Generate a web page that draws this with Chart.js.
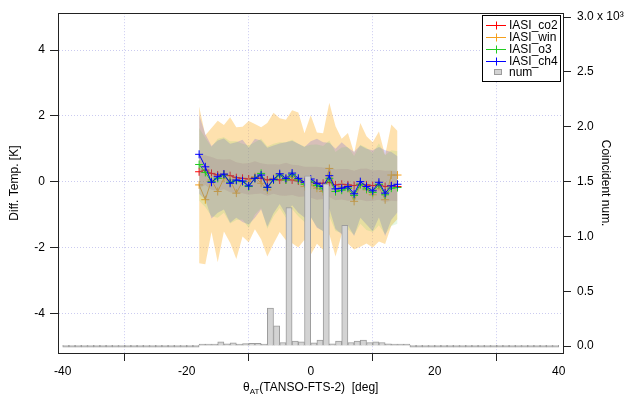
<!DOCTYPE html>
<html>
<head>
<meta charset="utf-8">
<script src="https://cdn.jsdelivr.net/npm/chart.js@4.4.0/dist/chart.umd.min.js"></script>
<style>
  html, body { margin: 0; padding: 0; background: #fff; }
</style>
</head>
<body>
<canvas id="diffChart" width="625" height="395"></canvas>
<script>
// scan angle of the match-ups (deg)
const angles = [-18, -17, -16, -15, -14, -13, -12, -11, -10, -9, -8, -7, -6, -5, -4, -3, -2,
  -1, 0, 1, 2, 3, 4, 5, 6, 7, 8, 9, 10, 11, 12, 13, 14];

// mean temperature differences [K]
const co2Mean = [0.30, 0.35, 0.25, 0.20, 0.22, 0.18, 0.12, 0.10, 0.08, 0.12, 0.10, 0.05, 0.08, 0.05, 0.07, 0.05, 0.02,
  0.00, -0.02, -0.05, -0.05, -0.02, -0.10, -0.08, -0.10, -0.12, -0.08, -0.10, -0.12, -0.10, -0.15, -0.12, -0.15];
const winMean = [-0.10, -0.55, 0.05, -0.30, 0.10, 0.05, -0.35, 0.00, 0.00, 0.15, -0.05, -0.25, 0.10, 0.20, 0.05, 0.15, 0.05,
  -0.15, -0.10, -0.20, -0.30, 0.40, -0.30, -0.15, -0.20, -0.60, -0.10, -0.25, -0.40, -0.15, -0.55, 0.20, 0.20];
const o3Mean = [0.52, 0.28, 0.00, 0.10, 0.20, -0.02, 0.03, 0.00, -0.15, 0.10, 0.25, -0.18, 0.05, 0.20, 0.05, 0.22, 0.05,
  -0.08, 0.02, -0.12, -0.22, 0.10, -0.30, -0.26, -0.20, -0.42, -0.08, -0.22, -0.33, -0.08, -0.40, -0.20, -0.18];
const ch4Mean = [0.83, 0.45, -0.02, 0.15, 0.23, -0.05, 0.05, 0.02, -0.13, 0.10, 0.20, -0.17, 0.07, 0.24, 0.10, 0.26, 0.10,
  -0.02, 0.08, -0.05, -0.15, 0.18, -0.22, -0.20, -0.15, -0.37, 0.00, -0.15, -0.28, -0.02, -0.35, -0.13, -0.08];

// standard deviations [K] (shaded bands)
const co2Std = [0.50, 0.45, 0.50, 0.48, 0.45, 0.50, 0.47, 0.45, 0.48, 0.50, 0.46, 0.48, 0.45, 0.47, 0.50, 0.46, 0.48,
  0.45, 0.47, 0.50, 0.48, 0.45, 0.47, 0.46, 0.48, 0.45, 0.47, 0.50, 0.46, 0.45, 0.48, 0.46, 0.45];
const winStd = [2.38, 1.96, 1.58, 2.15, 1.62, 1.91, 2.00, 1.67, 1.84, 1.60, 1.70, 2.03, 1.99, 1.73, 1.83, 2.02, 2.05,
  1.62, 2.12, 1.69, 1.77, 2.00, 1.98, 1.45, 1.68, 1.46, 1.88, 1.63, 1.60, 1.67, 1.35, 1.54, 1.34];
const o3Std = [1.10, 1.05, 1.05, 1.20, 1.15, 1.25, 1.20, 1.15, 1.25, 1.10, 1.05, 1.25, 1.10, 1.00, 1.15, 1.05, 1.10,
  1.15, 1.10, 1.25, 1.30, 1.15, 1.20, 1.30, 1.25, 1.20, 1.20, 1.25, 1.20, 1.25, 1.20, 1.15, 1.10];
const ch4Std = [1.20, 1.00, 1.10, 1.10, 1.08, 1.20, 1.15, 1.25, 1.17, 1.20, 1.05, 1.20, 1.03, 0.92, 1.10, 0.98, 1.05,
  1.07, 1.15, 1.35, 1.35, 1.00, 1.22, 1.40, 1.18, 1.28, 1.10, 1.15, 1.23, 1.07, 1.30, 1.03, 0.85];

// histogram of coincidences, 1 deg bins from -40 to 40
const binCenters = [-39.5, -38.5, -37.5, -36.5, -35.5, -34.5, -33.5, -32.5, -31.5, -30.5,
  -29.5, -28.5, -27.5, -26.5, -25.5, -24.5, -23.5, -22.5, -21.5, -20.5,
  -19.5, -18.5, -17.5, -16.5, -15.5, -14.5, -13.5, -12.5, -11.5, -10.5,
  -9.5, -8.5, -7.5, -6.5, -5.5, -4.5, -3.5, -2.5, -1.5, -0.5,
  0.5, 1.5, 2.5, 3.5, 4.5, 5.5, 6.5, 7.5, 8.5, 9.5,
  10.5, 11.5, 12.5, 13.5, 14.5, 15.5, 16.5, 17.5, 18.5, 19.5,
  20.5, 21.5, 22.5, 23.5, 24.5, 25.5, 26.5, 27.5, 28.5, 29.5,
  30.5, 31.5, 32.5, 33.5, 34.5, 35.5, 36.5, 37.5, 38.5, 39.5];
const numCounts = [0, 0, 0, 0, 0, 0, 0, 0, 0, 0,
  0, 0, 0, 0, 0, 0, 0, 0, 0, 0,
  0, 0, 3, 10, 15, 40, 20, 30, 18, 22,
  25, 25, 15, 347, 184, 33, 1264, 45, 39, 1553,
  30, 54, 1480, 20, 45, 1101, 33, 45, 54, 33,
  40, 33, 20, 15, 8, 4, 0, 0, 0, 0,
  0, 0, 0, 0, 0, 0, 0, 0, 0, 0,
  0, 0, 0, 0, 0, 0, 0, 0, 0, 0];

const xTicks = [-40, -20, 0, 20, 40];
const tempTicks = [-4, -2, 0, 2, 4];
const numTicks = [0, 500, 1000, 1500, 2000, 2500, 3000];

const seriesNames = ['IASI_co2', 'IASI_win', 'IASI_o3', 'IASI_ch4'];
const seriesColors = ['#ff0000', '#f5a01e', '#22cc22', '#0000ff'];

const FONT = '"Liberation Sans", Arial, sans-serif';

function points(ys) {
  return angles.map((a, i) => ({ x: a, y: ys[i] }));
}

// upper edge fills down to the lower edge right after it
function bandPair(mean, std, color, order) {
  return [
    { type: 'line', data: angles.map((a, i) => ({ x: a, y: mean[i] + std[i] })), fill: '+1',
      backgroundColor: color, borderColor: 'transparent', borderWidth: 0, pointRadius: 0, order: order, yAxisID: 'y' },
    { type: 'line', data: angles.map((a, i) => ({ x: a, y: mean[i] - std[i] })), fill: false,
      borderColor: 'transparent', borderWidth: 0, pointRadius: 0, order: order, yAxisID: 'y' }
  ];
}

function lineSet(idx, ys, order) {
  return {
    type: 'line', label: seriesNames[idx], data: points(ys), yAxisID: 'y',
    borderColor: seriesColors[idx], backgroundColor: seriesColors[idx],
    borderWidth: 1, pointStyle: 'cross', pointRadius: 4, pointBorderWidth: 1,
    fill: false, tension: 0, order: order
  };
}

const datasets = [
  ...bandPair(winMean, winStd, 'rgba(253,188,75,0.45)', 20),
  ...bandPair(co2Mean, co2Std, 'rgba(170,60,80,0.14)', 18),
  lineSet(0, co2Mean, 16),
  lineSet(1, winMean, 15),
  ...bandPair(ch4Mean, ch4Std, 'rgba(100,90,220,0.25)', 14),
  ...bandPair(o3Mean, o3Std, 'rgba(80,200,80,0.15)', 12),
  lineSet(2, o3Mean, 10),
  lineSet(3, ch4Mean, 9),
  {
    type: 'bar', label: 'num', yAxisID: 'y2', order: 1,
    data: binCenters.map((c, i) => ({ x: c, y: numCounts[i] })),
    backgroundColor: '#d3d3d3', borderColor: '#9c9c9c', borderWidth: 1,
    barPercentage: 1, categoryPercentage: 1, minBarLength: 2
  }
];

const gridDotted = {
  color: 'rgba(185,185,235,0.75)', tickColor: '#222', tickLength: 8, tickWidth: 1, tickBorderDash: []
};

const decorations = {
  id: 'decorations',
  afterDraw(chart) {
    const ctx = chart.ctx;
    const area = chart.chartArea;
    ctx.save();
    // frame
    ctx.strokeStyle = '#222';
    ctx.lineWidth = 1;
    ctx.strokeRect(Math.round(area.left) + 0.5, Math.round(area.top) + 0.5,
      Math.round(area.right - area.left), Math.round(area.bottom - area.top));

    // x title with subscript
    const cx = chart.scales.x.getPixelForValue(0);
    const base = 391;
    const big = '12px ' + FONT, small = '8px ' + FONT;
    ctx.fillStyle = '#000';
    ctx.textBaseline = 'alphabetic';
    ctx.textAlign = 'left';
    ctx.font = big;
    const w1 = ctx.measureText('\u03b8').width;
    const w3 = ctx.measureText('(TANSO-FTS-2)  [deg]').width;
    ctx.font = small;
    const w2 = ctx.measureText('AT').width;
    let x0 = cx - (w1 + w2 + w3) / 2;
    ctx.font = big;
    ctx.fillText('\u03b8', x0, base);
    ctx.font = small;
    ctx.fillText('AT', x0 + w1, base + 3);
    ctx.font = big;
    ctx.fillText('(TANSO-FTS-2)  [deg]', x0 + w1 + w2, base);

    // legend box
    const bx = 482.5, by = 15.5, bw = 78, bh = 66;
    ctx.fillStyle = '#fff';
    ctx.fillRect(bx, by, bw, bh);
    ctx.strokeStyle = '#000';
    ctx.strokeRect(bx, by, bw, bh);
    ctx.font = '12px ' + FONT;
    ctx.textBaseline = 'middle';
    const rowY = [25, 37, 49, 61, 72];
    seriesNames.forEach((name, i) => {
      const y = rowY[i] + 0.5;
      ctx.strokeStyle = seriesColors[i];
      ctx.beginPath();
      ctx.moveTo(486, y); ctx.lineTo(506, y);
      ctx.moveTo(496.5, y - 4); ctx.lineTo(496.5, y + 4);
      ctx.stroke();
      ctx.fillStyle = '#000';
      ctx.fillText(name, 509, rowY[i] + 1);
    });
    ctx.fillStyle = '#d3d3d3';
    ctx.strokeStyle = '#9c9c9c';
    ctx.fillRect(494.5, rowY[4] - 2.5, 7, 5);
    ctx.strokeRect(494.5, rowY[4] - 2.5, 7, 5);
    ctx.fillStyle = '#000';
    ctx.fillText('num', 509, rowY[4] + 1);
    ctx.restore();
  }
};

new Chart(document.getElementById('diffChart'), {
  type: 'line',
  data: { datasets: datasets },
  options: {
    responsive: false,
    animation: false,
    events: [],
    layout: { padding: { top: 10, left: 0, right: 0, bottom: 0 } },
    plugins: { legend: { display: false }, tooltip: { enabled: false } },
    scales: {
      x: {
        type: 'linear', position: 'bottom', min: -40.76, max: 40.69, offset: false,
        afterBuildTicks: (axis) => { axis.ticks = xTicks.map(v => ({ value: v })); },
        afterFit: (scale) => { scale.height = 42; },
        grid: gridDotted,
        border: { color: '#222', dash: [1, 2] },
        ticks: { color: '#000', font: { family: FONT, size: 12 }, padding: 3, maxRotation: 0,
          callback: (v) => String(v) }
      },
      y: {
        type: 'linear', position: 'left', min: -5.21, max: 5.12,
        afterBuildTicks: (axis) => { axis.ticks = tempTicks.map(v => ({ value: v })); },
        afterFit: (scale) => { scale.width = 58; },
        grid: gridDotted,
        border: { color: '#222', dash: [1, 2] },
        ticks: { color: '#000', font: { family: FONT, size: 12 }, padding: 5, callback: (v) => String(v) },
        title: { display: true, text: 'Diff. Temp. [K]', color: '#000', font: { family: FONT, size: 12 }, padding: { top: 7 } }
      },
      y2: {
        type: 'linear', position: 'right', min: -63, max: 3036,
        afterBuildTicks: (axis) => { axis.ticks = numTicks.map(v => ({ value: v })); },
        afterFit: (scale) => { scale.width = 62; },
        grid: { drawOnChartArea: false, color: '#222', tickColor: '#222', tickLength: 8 },
        border: { color: '#222' },
        ticks: { color: '#000', font: { family: FONT, size: 12 }, padding: 6,
          callback: (v) => v === 3000 ? '3.0 x 10\u00b3' : (v / 1000).toFixed(1) },
        title: { display: true, text: 'Coincident num.', color: '#000', font: { family: FONT, size: 12 }, padding: { top: 12 } }
      }
    }
  },
  plugins: [decorations]
});
</script>
</body>
</html>
